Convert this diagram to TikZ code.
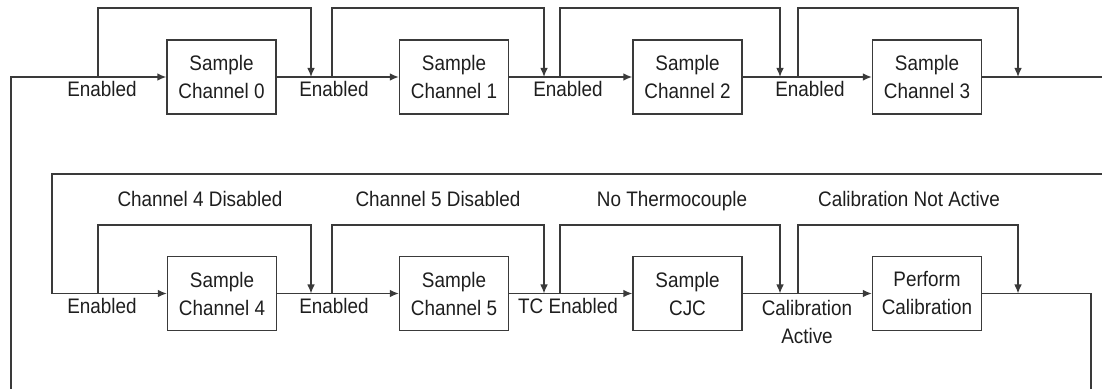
\documentclass[tikz,border=0pt]{standalone}
\usepackage{fontspec}
\setmainfont{Liberation Sans}[FakeStretch=0.9]
\usetikzlibrary{arrows.meta}
\definecolor{ln}{HTML}{3A3A3A}
\definecolor{tx}{HTML}{1E1E1E}
\begin{document}
\begin{tikzpicture}[x=0.5pt,y=-0.5pt,
  line/.style={draw=ln,line width=0.7pt},
  arr/.style={line,-{Latex[length=4.5pt,width=3.8pt]}},
  stepbox/.style={draw=ln,line width=0.7pt,minimum width=54.5pt,minimum height=37pt,inner sep=0pt,align=center,text=tx},
  lbl/.style={text=tx,inner sep=0pt,anchor=base,align=center},
  font=\fontsize{10.5}{14}\selectfont]
\useasboundingbox (0,0) rectangle (1102,389);
% boxes
\node[stepbox] (c0) at (221.5,77) {Sample\\Channel 0};
\node[stepbox] (c1) at (454,77) {Sample\\Channel 1};
\node[stepbox] (c2) at (687.5,77) {Sample\\Channel 2};
\node[stepbox] (c3) at (927,77) {Sample\\Channel 3};
\node[stepbox] (c4) at (222,293.5) {Sample\\Channel 4};
\node[stepbox] (c5) at (454,293.5) {Sample\\Channel 5};
\node[stepbox] (c6) at (687.5,293.5) {Sample\\CJC};
\node[stepbox] (c7) at (927,293.5) {Perform\\Calibration};
% coordinates
\coordinate (topA) at (0,8);
\coordinate (topB) at (0,225);
\coordinate (s0) at (11,389);
\coordinate (j0) at (98,77);
\coordinate (m0) at (311,77);
\coordinate (j1) at (332,77);
\coordinate (m1) at (544,77);
\coordinate (j2) at (560,77);
\coordinate (m2) at (780,77);
\coordinate (j3) at (798,77);
\coordinate (m3) at (1018,77);
\coordinate (e0) at (1102,77);
\coordinate (e1) at (1102,174);
\coordinate (w1) at (52,174);
\coordinate (k0) at (98,293.5);
\coordinate (n0) at (311,293.5);
\coordinate (k1) at (332,293.5);
\coordinate (n1) at (544,293.5);
\coordinate (k2) at (560,293.5);
\coordinate (n2) at (780,293.5);
\coordinate (k3) at (798,293.5);
\coordinate (n3) at (1018,293.5);
\coordinate (e2) at (1091,389);
% top row
\draw[arr] (s0) |- (c0.west);
\draw[arr] (c0.east) -- (c1.west);
\draw[arr] (c1.east) -- (c2.west);
\draw[arr] (c2.east) -- (c3.west);
\draw[line] (c3.east) -- (e0);
\draw[arr] (j0) -- (j0 |- topA) -| (m0);
\draw[arr] (j1) -- (j1 |- topA) -| (m1);
\draw[arr] (j2) -- (j2 |- topA) -| (m2);
\draw[arr] (j3) -- (j3 |- topA) -| (m3);
% bottom row
\draw[arr] (e1) -- (w1) |- (c4.west);
\draw[arr] (c4.east) -- (c5.west);
\draw[arr] (c5.east) -- (c6.west);
\draw[arr] (c6.east) -- (c7.west);
\draw[line] (c7.east) -| (e2);
\draw[arr] (k0) -- (k0 |- topB) -| (n0);
\draw[arr] (k1) -- (k1 |- topB) -| (n1);
\draw[arr] (k2) -- (k2 |- topB) -| (n2);
\draw[arr] (k3) -- (k3 |- topB) -| (n3);
% labels
\node[lbl] (l0) at (102,97) {Enabled};
\node[lbl] (l1) at (334,97) {Enabled};
\node[lbl] (l2) at (568,97) {Enabled};
\node[lbl] (l3) at (810,97) {Enabled};
\node[lbl] (l4) at (102,314) {Enabled};
\node[lbl] (l5) at (334,314) {Enabled};
\node[lbl] (l6) at (568,314) {TC Enabled};
\node[lbl,anchor=north] (l7) at (807,299.5) {Calibration\\Active};
\node[lbl] (d4) at (200,207) {Channel 4 Disabled};
\node[lbl] (d5) at (438,207) {Channel 5 Disabled};
\node[lbl] (d6) at (672,207) {No Thermocouple};
\node[lbl] (d7) at (909,207) {Calibration Not Active};
\end{tikzpicture}
\end{document}
